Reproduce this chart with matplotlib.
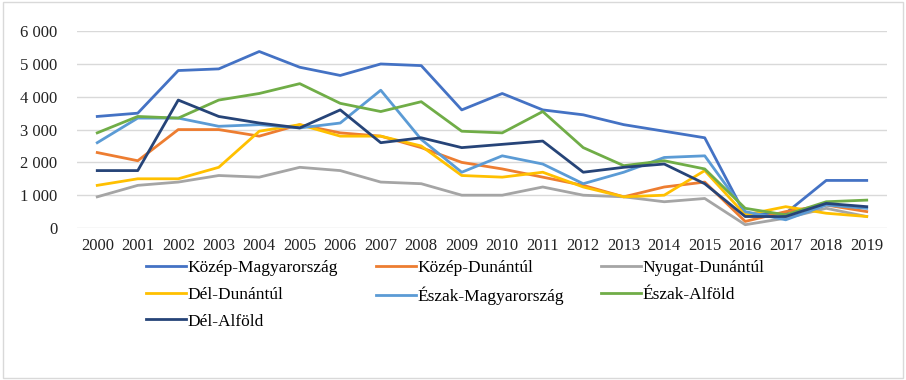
import matplotlib.pyplot as plt
from matplotlib.patches import Rectangle

years = [str(y) for y in range(2000, 2020)]

kozep_magyarorszag = [3400, 3500, 4800, 4850, 5380, 4900, 4650, 5000, 4950, 3600,
                      4100, 3600, 3450, 3150, 2950, 2750, 400, 450, 1450, 1450]
kozep_dunantul = [2300, 2050, 3000, 3000, 2800, 3150, 2900, 2800, 2450, 2000,
                  1800, 1550, 1300, 950, 1250, 1400, 200, 500, 700, 500]
nyugat_dunantul = [950, 1300, 1400, 1600, 1550, 1850, 1750, 1400, 1350, 1000,
                   1000, 1250, 1000, 950, 800, 900, 100, 300, 600, 350]
del_dunantul = [1300, 1500, 1500, 1850, 2950, 3150, 2800, 2800, 2500, 1600,
                1550, 1700, 1250, 950, 1000, 1750, 400, 650, 450, 350]
eszak_magyarorszag = [2600, 3350, 3350, 3100, 3150, 3050, 3200, 4200, 2700, 1700,
                      2200, 1950, 1350, 1700, 2150, 2200, 500, 250, 700, 600]
eszak_alfold = [2900, 3400, 3350, 3900, 4100, 4400, 3800, 3550, 3850, 2950,
                2900, 3550, 2450, 1900, 2050, 1800, 600, 400, 800, 850]
del_alfold = [1750, 1750, 3900, 3400, 3200, 3050, 3600, 2600, 2750, 2450,
              2550, 2650, 1700, 1850, 1950, 1350, 350, 350, 750, 650]

series = [
    ("Közép-Magyarország", kozep_magyarorszag, "#4472C4"),
    ("Közép-Dunántúl", kozep_dunantul, "#ED7D31"),
    ("Nyugat-Dunántúl", nyugat_dunantul, "#A5A5A5"),
    ("Dél-Dunántúl", del_dunantul, "#FFC000"),
    ("Észak-Magyarország", eszak_magyarorszag, "#5B9BD5"),
    ("Észak-Alföld", eszak_alfold, "#70AD47"),
    ("Dél-Alföld", del_alfold, "#264478"),
]

plt.rcParams['font.family'] = ['Liberation Serif', 'DejaVu Serif']

fig = plt.figure(figsize=(9.06, 3.8), dpi=100)
ax = fig.add_axes([0.085, 0.4, 0.894, 0.518])

x = range(len(years))
lines = []
for name, vals, color in series:
    ln, = ax.plot(x, vals, color=color, lw=2.0, label=name, solid_joinstyle='round')
    lines.append(ln)

ax.set_xlim(-0.5, len(years) - 0.5)
ax.set_ylim(0, 6000)
ax.set_yticks(range(0, 6001, 1000))
ax.set_yticklabels([f"{v:,}".replace(",", " ") for v in range(0, 6001, 1000)])
ax.set_xticks(list(x))
ax.set_xticklabels(years)
ax.tick_params(axis='both', length=0, labelsize=12, colors='#222222')
ax.tick_params(axis='x', pad=7)
ax.tick_params(axis='y', pad=14)
ax.grid(axis='y', color='#D9D9D9', lw=1)
ax.set_axisbelow(True)
for s in ax.spines.values():
    s.set_visible(False)

# legend is filled column by column, reorder so it reads row by row
order = [0, 3, 6, 1, 4, 2, 5]
fig.legend([lines[i] for i in order], [series[i][0] for i in order],
           loc='upper left', bbox_to_anchor=(0.144, 0.358), ncol=3, frameon=False,
           fontsize=12.5, handlelength=2.3, handletextpad=0.1, columnspacing=2.15,
           labelspacing=0.62)

fig.patches.append(Rectangle((0.003, 0.005), 0.994, 0.99, transform=fig.transFigure,
                             fill=False, edgecolor='#D9D9D9', lw=1))

fig.savefig("out.png", dpi=100)
